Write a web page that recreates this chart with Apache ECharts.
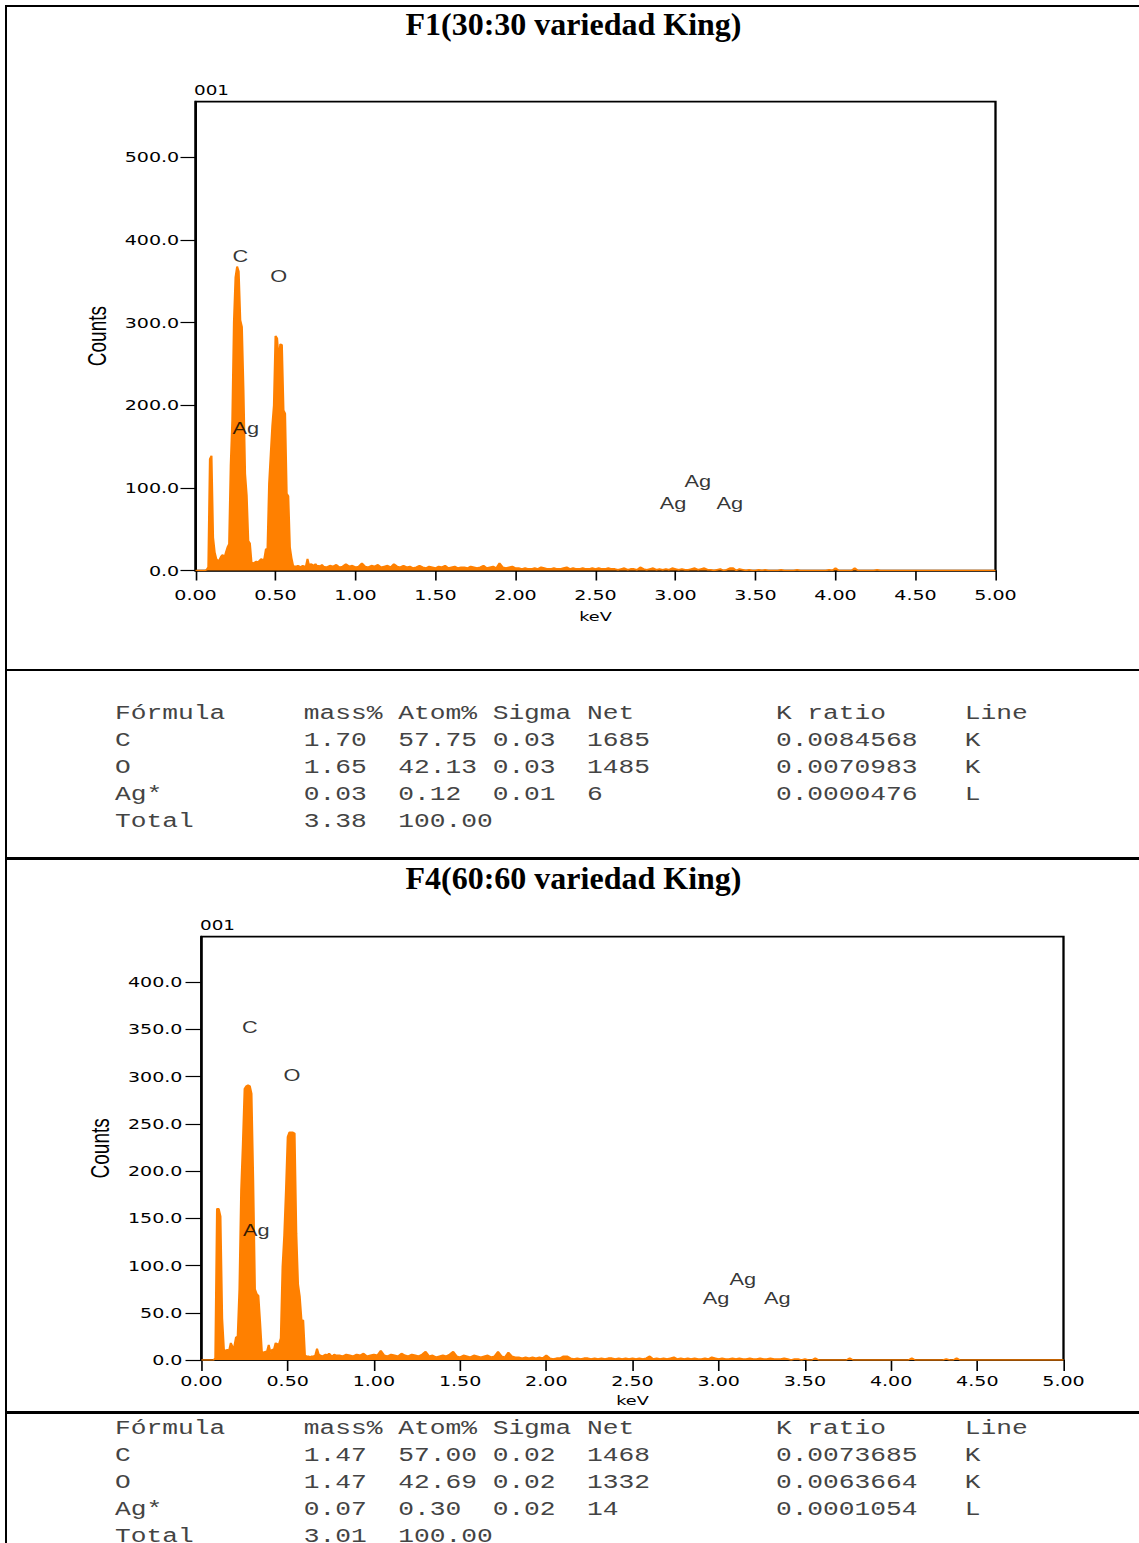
<!DOCTYPE html>
<html>
<head>
<meta charset="utf-8">
<script src="https://cdn.jsdelivr.net/npm/echarts@6/dist/echarts.min.js"></script>
<style>
html,body{margin:0;padding:0;background:#fff;width:1139px;height:1543px;overflow:hidden;position:relative;}
.hl{position:absolute;left:5px;width:1134px;height:2.6px;background:#000;}
#vl{position:absolute;left:5px;top:4.5px;width:2.4px;height:1540px;background:#000;}
.title{position:absolute;font-family:'Liberation Serif';font-weight:bold;font-size:32px;line-height:32px;white-space:nowrap;transform:translateX(-50%);color:#000;}
#stretch{position:absolute;left:0;top:0;height:1543px;transform-origin:0 0;}
#chart{position:absolute;left:0;top:0;height:1543px;}
.tbl{position:absolute;margin:0;font-family:'Liberation Mono';font-size:19.3px;line-height:27px;color:#444;white-space:pre;}
</style>
</head>
<body>
<div id="stretch">
  <div id="chart"></div>
  <pre class="tbl" id="tbl1"></pre>
  <pre class="tbl" id="tbl2"></pre>
</div>
<div class="hl" style="top:4.5px"></div>
<div class="hl" style="top:668.7px"></div>
<div class="hl" style="top:857.4px"></div>
<div class="hl" style="top:1411px"></div>
<div id="vl"></div>
<div class="title" id="title1" style="left:573.5px;top:8px"></div>
<div class="title" id="title2" style="left:573.5px;top:862px"></div>
<script>
// ---------------- data ----------------
const title1 = 'F1(30:30 variedad King)';
const title2 = 'F4(60:60 variedad King)';
const panelTag = '001';
const xName = 'keV';
const yName = 'Counts';

// x tick labels (keV)
const xTicks = [0, 0.5, 1, 1.5, 2, 2.5, 3, 3.5, 4, 4.5, 5];
const yTicks1 = [0, 100, 200, 300, 400, 500];
const yTicks2 = [0, 50, 100, 150, 200, 250, 300, 350, 400];

// spectrum counts, 0.00 - 0.79 keV, one value per 0.01 keV channel
const peak1 = [
  0,0,0,0,0,0,0,1,4,135,
  139,40,22,14,12,13,17,19,15,22,
  28,32,127,182,300,355,368,362,303,295,
  218,117,91,36,33,10,9,10,11,10,
  12,14,13,14,26,26,105,140,175,200,
  284,281,255,274,273,194,190,93,90,28,
  15,6,5,5,6,5,4,6,5,5,
  14,6,8,7,6,8,5,6,5,7
];
// spectrum counts, 0.80 - 5.00 keV, one value per 0.02 keV
const tail1 = [
  5,4,6,5,7,4,5,8,5,6,4,5,9,5,4,6,5,7,4,5,6,4,8,5,4,6,
  4,5,3,4,6,4,3,5,4,3,5,4,6,3,4,5,3,4,4,3,5,4,3,4,6,3,4,5,3,9,4,3,4,5,3,
  3,2,3,2,2,3,2,4,3,2,2,3,2,2,3,4,2,3,2,2,3,2,2,3,2,3,2,2,3,2,
  2,1,2,3,1,2,2,1,4,2,1,2,3,1,2,1,2,1,3,2,1,2,1,1,2,3,1,2,3,1,
  1,0,1,2,0,1,3,3,0,2,1,0,1,0,0,1,0,1,0,0,
  0,0,1,0,0,0,0,1,0,0,0,0,0,0,0,0,0,1,0,
  3,0,0,0,0,0,3,0,0,0,0,0,0,1,0,0,0,0,0,0,
  0,0,0,0,0,0,0,0,0,0,0,0,0,0,0,0,0,0,0,0,
  0,0,0,0,0,0,0,0,0,0,0
];
const peak2 = [
  0,0,0,0,0,0,0,0,2,160,
  160,152,44,11,10,11,10,18,14,14,
  24,25,75,179,229,287,290,291,290,282,
  190,75,70,68,40,9,8,9,9,16,
  8,11,11,18,17,17,23,98,132,180,
  236,241,241,241,240,134,80,67,42,42,
  5,4,4,3,4,4,5,12,6,5,
  4,5,6,5,7,5,4,6,5,5
];
const tail2 = [
  5,4,6,5,4,6,5,7,4,5,6,5,10,5,4,6,5,4,7,5,4,6,5,4,6,9,
  4,5,3,4,5,4,6,9,4,3,5,4,3,5,4,3,4,5,3,4,9,4,3,8,4,3,3,2,3,2,3,2,3,2,5,
  2,1,2,2,4,4,2,1,2,1,2,2,1,2,1,2,1,2,2,1,2,1,2,1,2,1,2,1,2,4,
  1,2,1,2,1,2,3,1,2,1,2,1,2,1,1,2,1,3,2,1,2,1,1,2,1,2,1,1,2,1,
  1,2,1,1,2,1,1,1,2,1,0,1,1,0,1,0,0,2,0,0,
  0,0,0,0,0,0,0,2,0,0,0,0,0,0,0,0,0,0,0,
  0,0,0,0,0,0,2,0,0,0,0,0,0,0,0,0,1,0,0,2,
  0,0,0,0,0,0,0,0,0,0,0,0,0,0,0,0,0,0,0,0,
  0,0,0,0,0,0,0,0,0,0,0
];

// element markers: [label, keV, counts]
const labels1 = [['C',0.28,380],['O',0.52,356],['Ag',0.315,172],['Ag',3.14,108],['Ag',2.985,81],['Ag',3.34,81]];
const labels2 = [['C',0.28,352],['O',0.524,301],['Ag',0.318,137],['Ag',3.14,85.5],['Ag',2.985,65.5],['Ag',3.34,65.5]];

// quantification tables
const tableHeader = ['Fórmula','mass%','Atom%','Sigma','Net','K ratio','Line'];
const table1Rows = [
  ['C','1.70','57.75','0.03','1685','0.0084568','K'],
  ['O','1.65','42.13','0.03','1485','0.0070983','K'],
  ['Ag*','0.03','0.12','0.01','6','0.0000476','L'],
  ['Total','3.38','100.00','','','','']
];
const table2Rows = [
  ['C','1.47','57.00','0.02','1468','0.0073685','K'],
  ['O','1.47','42.69','0.02','1332','0.0063664','K'],
  ['Ag*','0.07','0.30','0.02','14','0.0001054','L'],
  ['Total','3.01','100.00','','','','']
];

// ---------------- layout ----------------
const S = 1.36; // horizontal stretch of the original report picture
const W = 1139 / S;
const stretchEl = document.getElementById('stretch');
stretchEl.style.width = W + 'px';
stretchEl.style.transform = 'scaleX(' + S + ')';
document.getElementById('chart').style.width = W + 'px';
document.getElementById('title1').textContent = title1;
document.getElementById('title2').textContent = title2;

const colStarts = [0, 12, 18, 24, 30, 42, 54];
function rowText(cells) {
  let s = '';
  cells.forEach((c, i) => { s = s.padEnd(colStarts[i], ' ') + c; });
  return s.replace(/\s+$/, '');
}
function tableText(rows) { return [tableHeader].concat(rows).map(rowText).join('\n'); }
const t1 = document.getElementById('tbl1');
const t2 = document.getElementById('tbl2');
t1.textContent = tableText(table1Rows);
t2.textContent = tableText(table2Rows);
t1.style.left = (115 / S) + 'px'; t1.style.top = '701px';
t2.style.left = (115 / S) + 'px'; t2.style.top = '1416px';

function spectrum(peak, tail) {
  const d = [];
  peak.forEach((c, i) => d.push([+(i * 0.01).toFixed(2), c]));
  tail.forEach((c, i) => d.push([+(0.80 + i * 0.02).toFixed(2), c]));
  return d;
}

const black = '#000';
const orange = '#FF8000';
const panels = [
  { left: 195.5, right: 995.5, top: 101.7, bottom: 570.5, yMax: 567.5, yTicks: yTicks1,
    peak: peak1, tail: tail1, labels: labels1, yTickLen: 15, yLabelMargin: 12, xTickLen: 10,
    xLabelMargin: 17, keVGap: 40, countsGap: 56, tagLeft: 194, tagTop: 83 },
  { left: 201.5, right: 1063.5, top: 936.7, bottom: 1360, yMax: 448, yTicks: yTicks2,
    peak: peak2, tail: tail2, labels: labels2, yTickLen: 16, yLabelMargin: 14, xTickLen: 11,
    xLabelMargin: 14, keVGap: 34, countsGap: 65, tagLeft: 200, tagTop: 918 }
];

const option = {
  backgroundColor: 'transparent',
  animation: false,
  title: panels.map(p => ({
    text: panelTag, left: p.tagLeft / S, top: p.tagTop, padding: 0,
    textStyle: { fontFamily: 'DejaVu Sans', fontSize: 13.5, fontWeight: 'normal', color: black }
  })),
  grid: panels.map(p => ({
    left: p.left / S, top: p.top, width: (p.right - p.left) / S, height: p.bottom - p.top,
    show: true, borderColor: black, borderWidth: 1.7, backgroundColor: 'transparent',
    containLabel: false, outerBoundsMode: 'none'
  })),
  xAxis: panels.map((p, i) => ({
    type: 'value', gridIndex: i, min: 0, max: 5, interval: 0.5,
    name: xName, nameLocation: 'middle', nameGap: p.keVGap,
    nameTextStyle: { fontFamily: 'DejaVu Sans', fontSize: 13, color: black },
    axisLine: { show: true, lineStyle: { color: black, width: 1.7 } },
    axisTick: { show: true, inside: false, length: p.xTickLen, lineStyle: { color: black, width: 1.2 }, customValues: xTicks },
    axisLabel: { show: true, margin: p.xLabelMargin, fontFamily: 'DejaVu Sans', fontSize: 14, color: black,
      customValues: xTicks, formatter: v => (+v).toFixed(2) },
    splitLine: { show: false }
  })),
  yAxis: panels.map((p, i) => ({
    type: 'value', gridIndex: i, min: 0, max: p.yMax, interval: p.yTicks[1] - p.yTicks[0],
    name: yName, nameLocation: 'middle', nameGap: p.countsGap, nameRotate: 90,
    nameTextStyle: { fontFamily: 'Liberation Sans', fontSize: 19, color: black },
    axisLine: { show: true, lineStyle: { color: black, width: 1.7 } },
    axisTick: { show: true, inside: false, length: p.yTickLen / S, lineStyle: { color: black, width: 1.2 }, customValues: p.yTicks },
    axisLabel: { show: true, margin: p.yLabelMargin, fontFamily: 'DejaVu Sans', fontSize: 14, color: black,
      customValues: p.yTicks,
      formatter: v => (p.yTicks.indexOf(+v) >= 0 ? (+v).toFixed(1) : '') },
    splitLine: { show: false }
  })),
  series: [].concat(...panels.map((p, i) => [
    {
      type: 'line', xAxisIndex: i, yAxisIndex: i, data: spectrum(p.peak, p.tail),
      symbol: 'none', showSymbol: false, silent: true, clip: true, z: 3,
      lineStyle: { color: orange, width: 1.5 },
      areaStyle: { color: orange, opacity: 1 }
    },
    {
      type: 'scatter', xAxisIndex: i, yAxisIndex: i, data: p.labels.map(l => [l[1], l[2], l[0]]),
      symbolSize: 1, itemStyle: { color: 'rgba(0,0,0,0)' }, silent: true, z: 5,
      label: { show: true, position: 'inside', formatter: q => q.data[2],
        fontFamily: 'Liberation Sans', fontSize: 16, color: black, textBorderWidth: 0 }
    }
  ]))
};

const chart = echarts.init(document.getElementById('chart'), null, { renderer: 'svg', width: W, height: 1543 });
chart.setOption(option);
</script>
</body>
</html>
